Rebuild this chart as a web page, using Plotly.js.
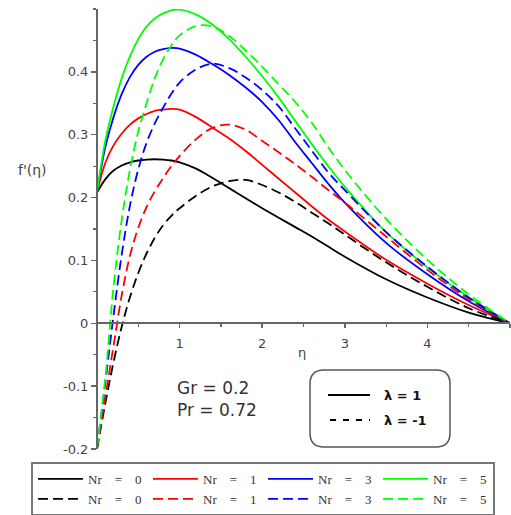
<!DOCTYPE html>
<html>
<head>
<meta charset="utf-8">
<script src="https://cdn.plot.ly/plotly-3.0.1.min.js"></script>
<style>html,body{margin:0;padding:0;background:#fff;}#chart{width:511px;height:515px;}</style>
</head>
<body>
<div id="chart"></div>
<script>
// eta grid (x values)
const eta = [0, 0.1, 0.2, 0.3, 0.4, 0.5, 0.6, 0.7, 0.8, 0.9, 1.0, 1.2, 1.4, 1.6, 1.8, 2.0, 2.2, 2.4, 2.6, 2.8, 3.0, 3.5, 4.0, 4.5, 5.0];

// lambda = 1 (solid)
const nr0Pos = [0.208, 0.229, 0.243, 0.251, 0.256, 0.259, 0.2605, 0.261, 0.2605, 0.259, 0.256, 0.246, 0.231, 0.215, 0.199, 0.183, 0.168, 0.153, 0.138, 0.122, 0.106, 0.070, 0.041, 0.017, 0.0];
const nr1Pos = [0.208, 0.255, 0.283, 0.302, 0.316, 0.326, 0.333, 0.338, 0.340, 0.341, 0.340, 0.328, 0.311, 0.294, 0.274, 0.252, 0.230, 0.208, 0.186, 0.165, 0.146, 0.101, 0.063, 0.029, 0.0];
const nr3Pos = [0.208, 0.280, 0.328, 0.365, 0.392, 0.411, 0.424, 0.432, 0.436, 0.438, 0.437, 0.427, 0.412, 0.395, 0.375, 0.352, 0.323, 0.288, 0.255, 0.222, 0.192, 0.128, 0.078, 0.035, 0.0];
const nr5Pos = [0.208, 0.290, 0.345, 0.390, 0.425, 0.452, 0.472, 0.485, 0.493, 0.498, 0.499, 0.491, 0.475, 0.452, 0.424, 0.393, 0.359, 0.322, 0.285, 0.250, 0.217, 0.145, 0.089, 0.041, 0.0];

// lambda = -1 (dashed)
const nr0Neg = [-0.2, -0.128, -0.062, -0.005, 0.042, 0.080, 0.111, 0.136, 0.156, 0.171, 0.183, 0.203, 0.218, 0.226, 0.228, 0.220, 0.208, 0.193, 0.176, 0.159, 0.141, 0.097, 0.058, 0.024, 0.0];
const nr1Neg = [-0.2, -0.118, -0.036, 0.045, 0.108, 0.152, 0.185, 0.210, 0.231, 0.250, 0.266, 0.293, 0.311, 0.316, 0.308, 0.290, 0.272, 0.253, 0.233, 0.212, 0.192, 0.138, 0.085, 0.038, 0.0];
const nr3Neg = [-0.2, -0.095, 0.012, 0.110, 0.188, 0.245, 0.287, 0.318, 0.343, 0.365, 0.383, 0.404, 0.413, 0.406, 0.391, 0.371, 0.345, 0.310, 0.275, 0.240, 0.212, 0.145, 0.090, 0.041, 0.0];
const nr5Neg = [-0.2, -0.088, 0.058, 0.165, 0.245, 0.305, 0.350, 0.390, 0.420, 0.442, 0.458, 0.473, 0.472, 0.457, 0.434, 0.408, 0.380, 0.352, 0.319, 0.280, 0.244, 0.166, 0.101, 0.046, 0.0];

const sp = '\u00a0';
const nrValues = ['0', '1', '3', '5'];
const nrLabels = nrValues.map(v => 'Nr' + sp + sp + sp + sp + '=' + sp + sp + sp + sp + v);
const colors = ['#000000', '#ff0000', '#0000ff', '#00ff00'];
const posSeries = [nr0Pos, nr1Pos, nr3Pos, nr5Pos];
const negSeries = [nr0Neg, nr1Neg, nr3Neg, nr5Neg];

const yTickVals = [-0.2, -0.1, 0, 0.1, 0.2, 0.3, 0.4];
const yTickText = ['-0.2', '-0.1', '0', '0.1', '0.2', '0.3', '0.4'];
const xTickVals = [1, 2, 3, 4, 5];
const xTickText = ['1', '2', '3', '4', '5'];
const yRange = [-0.2, 0.5];
const xRange = [0, 5];

const traces = [];
posSeries.forEach((s, i) => traces.push({
  x: eta, y: s, type: 'scatter', mode: 'lines', name: nrLabels[i],
  line: {color: colors[i], width: 1.8, shape: 'spline', smoothing: 1}
}));
negSeries.forEach((s, i) => traces.push({
  x: eta, y: s, type: 'scatter', mode: 'lines', name: nrLabels[i],
  line: {color: colors[i], width: 1.8, dash: '10px,5px', shape: 'spline', smoothing: 1}
}));

// pixel helpers for decorations (plot area: left 97, width 413, top 9, height 440)
const L = 97, W = 413, T = 9, H = 440;
const px = v => (v - L) / W;
const py = v => (T + H - v) / H;

const bx0 = px(310), bx1 = px(450), by1 = py(370), by0 = py(447);
const rx = 14 / W, ry = 14 / H;
const boxPath = `M${bx0+rx},${by1} L${bx1-rx},${by1} Q${bx1},${by1} ${bx1},${by1-ry} L${bx1},${by0+ry} Q${bx1},${by0} ${bx1-rx},${by0} L${bx0+rx},${by0} Q${bx0},${by0} ${bx0},${by0+ry} L${bx0},${by1-ry} Q${bx0},${by1} ${bx0+rx},${by1} Z`;

const axisFont = {family: 'DejaVu Sans', size: 13, color: '#444'};

const layout = {
  width: 511, height: 515,
  margin: {l: L, r: 511 - L - W, t: T, b: 515 - T - H, pad: 0, autoexpand: false},
  paper_bgcolor: '#fff', plot_bgcolor: '#fff',
  showlegend: true,
  xaxis: {
    range: xRange, anchor: 'free', position: (0 - yRange[0]) / (yRange[1] - yRange[0]),
    showgrid: false, zeroline: false, showline: true, linecolor: '#666', linewidth: 2,
    ticks: 'outside', ticklen: 4, tickwidth: 1.5, tickcolor: '#666',
    tickmode: 'array', tickvals: xTickVals, ticktext: xTickText, tickfont: axisFont,
    ticklabelstandoff: 4, automargin: false,
    minor: {dtick: 0.5, tick0: 0, ticks: 'outside', ticklen: 3, tickcolor: '#666', tickwidth: 1.2, showgrid: false}
  },
  yaxis: {
    range: yRange, anchor: 'free', position: 0,
    showgrid: false, zeroline: false, showline: true, linecolor: '#666', linewidth: 2,
    ticks: 'outside', ticklen: 5, tickwidth: 1.5, tickcolor: '#666',
    tickmode: 'array', tickvals: yTickVals, ticktext: yTickText, tickfont: axisFont, automargin: false,
    minor: {dtick: 0.05, tick0: 0, ticks: 'outside', ticklen: 3, tickcolor: '#666', tickwidth: 1.2, showgrid: false}
  },
  legend: {
    orientation: 'h', x: px(31), xanchor: 'left', y: py(462), yanchor: 'top',
    bordercolor: '#777', borderwidth: 2, bgcolor: '#fff',
    font: {family: 'Liberation Serif', size: 13, color: '#333'},
    entrywidth: 55, entrywidthmode: 'pixels', itemwidth: 45, tracegroupgap: 0
  },
  shapes: [
    {type: 'path', xref: 'paper', yref: 'paper', path: boxPath, line: {color: '#555', width: 1.5}, fillcolor: 'rgba(0,0,0,0)'},
    {type: 'line', xref: 'paper', yref: 'paper', x0: px(328), x1: px(370), y0: py(395), y1: py(395), line: {color: '#000', width: 1.8}},
    {type: 'line', xref: 'paper', yref: 'paper', x0: px(330), x1: px(370), y0: py(420), y1: py(420), line: {color: '#000', width: 1.8, dash: '6px,7px'}}
  ],
  annotations: [
    {xref: 'paper', yref: 'paper', x: px(382), y: py(395), xanchor: 'left', yanchor: 'middle', showarrow: false,
     text: '<b>λ = 1</b>', font: {family: 'DejaVu Sans', size: 13, color: '#111'}},
    {xref: 'paper', yref: 'paper', x: px(382), y: py(420), xanchor: 'left', yanchor: 'middle', showarrow: false,
     text: '<b>λ = -1</b>', font: {family: 'DejaVu Sans', size: 13, color: '#111'}},
    {xref: 'paper', yref: 'paper', x: px(175), y: py(399), xanchor: 'left', yanchor: 'middle', showarrow: false, align: 'left',
     text: 'Gr = 0.2<br>Pr = 0.72', font: {family: 'DejaVu Sans', size: 17, color: '#333'}},
    {xref: 'paper', yref: 'paper', x: px(32), y: py(170), xanchor: 'center', yanchor: 'middle', showarrow: false,
     text: "f'(η)", font: {family: 'DejaVu Sans', size: 14, color: '#444'}},
    {xref: 'paper', yref: 'paper', x: px(302), y: py(352), xanchor: 'center', yanchor: 'middle', showarrow: false,
     text: 'η', font: {family: 'DejaVu Sans', size: 13, color: '#444'}}
  ]
};

Plotly.newPlot('chart', traces, layout, {displayModeBar: false, staticPlot: true});
</script>
</body>
</html>
